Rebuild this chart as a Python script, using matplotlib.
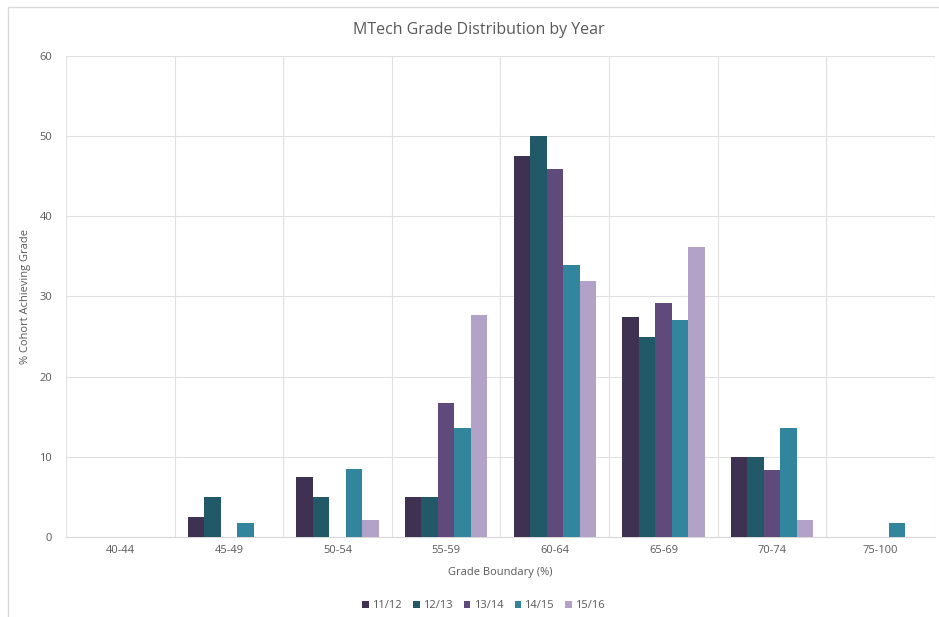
import numpy as np
import matplotlib.pyplot as plt
from matplotlib.patches import Rectangle

plt.rcParams['font.family'] = ['Open Sans', 'DejaVu Sans']

categories = ["40-44", "45-49", "50-54", "55-59", "60-64", "65-69", "70-74", "75-100"]
years = ["11/12", "12/13", "13/14", "14/15", "15/16"]
y1112 = [0, 2.5, 7.5, 5.0, 47.5, 27.5, 10.0, 0]
y1213 = [0, 5.0, 5.0, 5.0, 50.0, 25.0, 10.0, 0]
y1314 = [0, 0, 0, 16.7, 45.9, 29.2, 8.3, 0]
y1415 = [0, 1.7, 8.5, 13.6, 33.9, 27.1, 13.6, 1.7]
y1516 = [0, 0, 2.1, 27.7, 31.9, 36.2, 2.1, 0]
series = [y1112, y1213, y1314, y1415, y1516]
colors = ["#3F3151", "#215968", "#604A7B", "#31859C", "#B3A2C7"]

txt = "#595959"
fig = plt.figure(figsize=(9.39, 6.17), dpi=100)
ax = fig.add_axes([0.0703, 0.1297, 0.9254, 0.7796])

x = np.arange(len(categories))
w = 0.152
for i, (vals, c, lab) in enumerate(zip(series, colors, years)):
    ax.bar(x + (i - 2) * w, vals, w, color=c, label=lab, zorder=3)

ax.set_xlim(-0.5, len(categories) - 0.5)
ax.set_ylim(0, 60)
ax.set_yticks(range(0, 61, 10))
ax.set_xticks(x)
ax.set_xticklabels(categories)
ax.set_xticks(np.arange(-0.5, len(categories)), minor=True)
ax.grid(True, which='major', axis='y', color="#E0E0E0", lw=0.8, zorder=0)
ax.grid(True, which='minor', axis='x', color="#E0E0E0", lw=0.8, zorder=0)
ax.tick_params(which='both', length=0, colors=txt, labelsize=8)
ax.tick_params(axis='x', pad=6)
ax.tick_params(axis='y', pad=10)
for s in ['top', 'right', 'left']:
    ax.spines[s].set_visible(False)
ax.spines['bottom'].set_color("#D9D9D9")

ax.set_xlabel("Grade Boundary (%)", color=txt, fontsize=8, labelpad=8)
ax.set_ylabel("% Cohort Achieving Grade", color=txt, fontsize=8, labelpad=6)
fig.text(0.51, 0.951, "MTech Grade Distribution by Year", ha='center', va='center',
         color=txt, fontsize=11.5)

leg = fig.legend(loc='center', bbox_to_anchor=(0.515, 0.018), ncol=5, frameon=False,
                 fontsize=8, handlelength=0.6, handleheight=0.6, columnspacing=1.0,
                 handletextpad=0.3)
for t in leg.get_texts():
    t.set_color(txt)

fig.patches.append(Rectangle((0.0085, -0.05), 1.05, 1.039, transform=fig.transFigure,
                             fill=False, edgecolor="#D9D9D9", lw=1))

fig.savefig("out.png", dpi=100)
